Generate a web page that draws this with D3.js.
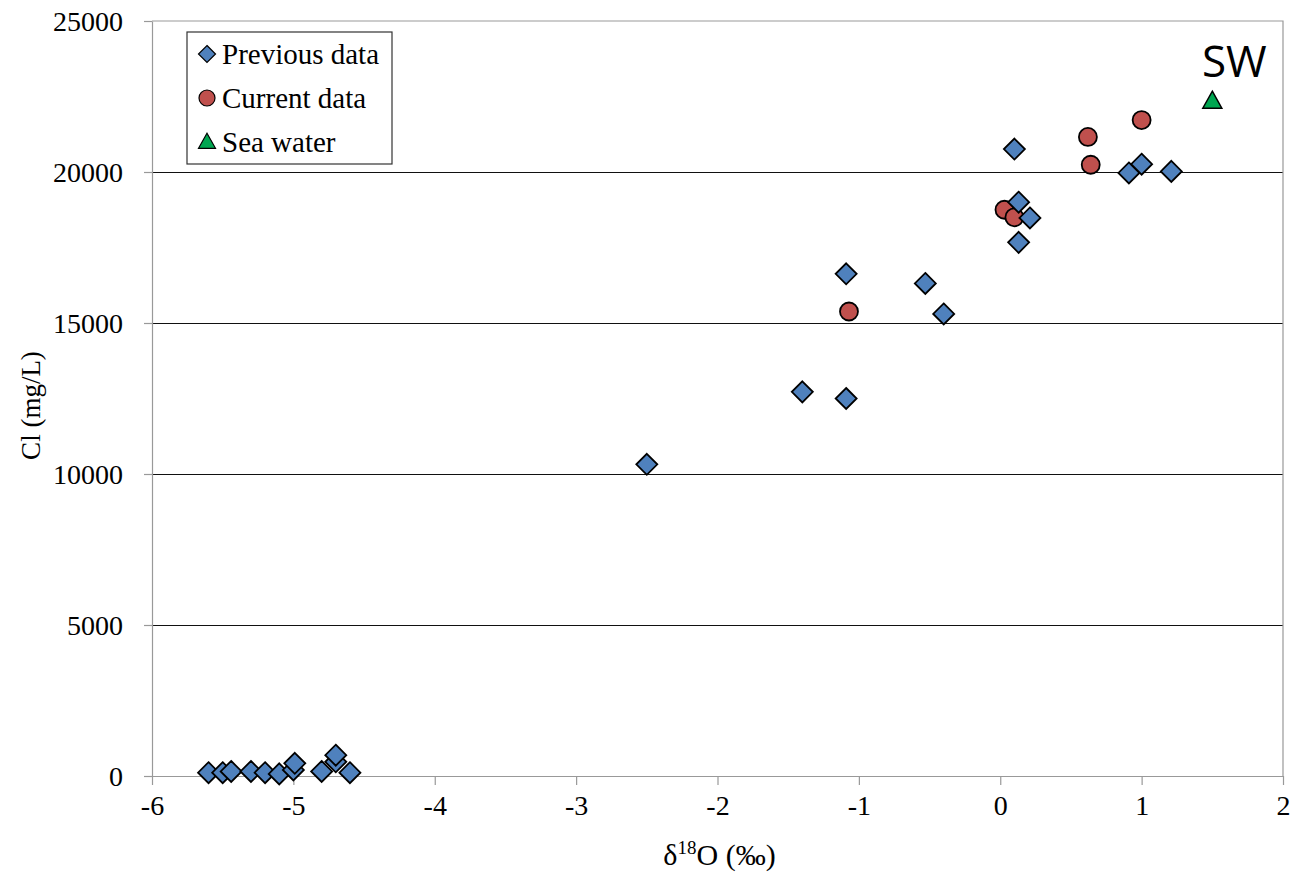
<!DOCTYPE html>
<html>
<head>
<meta charset="utf-8">
<script src="https://cdn.jsdelivr.net/npm/d3@7"></script>
<style>
  body { margin: 0; background: #fff; }
  svg text { font-family: "Liberation Serif", "Times New Roman", serif; fill: #000; }
</style>
</head>
<body>
<svg id="chart" width="1304" height="874"></svg>
<script>
// previous data: delta18O (permil) and Cl (mg/L)
const prevD18O = [-5.6, -5.5, -5.44, -5.3, -5.2, -5.1, -5.0, -4.99, -4.8, -4.7, -4.7, -4.6,
  -2.5, -1.4, -1.09, -1.09, -0.53, -0.4, 0.1, 0.13, 0.21, 0.13, 0.91, 1.0, 1.21];
const prevCl = [110, 110, 150, 150, 110, 70, 200, 420, 150, 470, 690, 110,
  10320, 12720, 12500, 16630, 16310, 15300, 20760, 19000, 18480, 17670, 19970, 20260, 20020];

// current data
const curD18O = [-1.07, 0.03, 0.1, 0.62, 0.64, 1.0];
const curCl = [15380, 18750, 18500, 21160, 20240, 21720];

// sea water
const swD18O = [1.5];
const swCl = [22350];

const xTicks = [-6, -5, -4, -3, -2, -1, 0, 1, 2];
const yTicks = [0, 5000, 10000, 15000, 20000, 25000];
const legendLabels = ["Previous data", "Current data", "Sea water"];

const margin = { top: 21, right: 21, bottom: 98, left: 152 };
const width = 1304 - margin.left - margin.right;
const height = 874 - margin.top - margin.bottom;

const svg = d3.select("#chart");
const g = svg.append("g").attr("transform", `translate(${margin.left},${margin.top})`);

const x = d3.scaleLinear().domain([-6, 2]).range([0, width]);
const y = d3.scaleLinear().domain([0, 25000]).range([height, 0]);

// gridlines
g.append("g")
  .selectAll("line")
  .data(yTicks.filter(d => d > 0 && d < 25000))
  .join("line")
  .attr("x1", 0).attr("x2", width)
  .attr("y1", d => Math.round(y(d)) + 0.5).attr("y2", d => Math.round(y(d)) + 0.5)
  .attr("stroke", "#111").attr("stroke-width", 1.2);

// frame top + right
g.append("path")
  .attr("d", `M0,0H${width}V${height}`)
  .attr("fill", "none").attr("stroke", "#999").attr("stroke-width", 1.2);

// axes
const fmt = d => String(d);
const xAxis = g.append("g")
  .attr("transform", `translate(0,${height})`)
  .call(d3.axisBottom(x).tickValues(xTicks).tickFormat(fmt).tickSize(9).tickPadding(10).tickSizeOuter(0));
const yAxis = g.append("g")
  .call(d3.axisLeft(y).tickValues(yTicks).tickFormat(fmt).tickSize(8).tickPadding(21).tickSizeOuter(0));

[xAxis, yAxis].forEach(a => {
  a.select(".domain").attr("stroke", "#999").attr("stroke-width", 1.2);
  a.selectAll(".tick line").attr("stroke", "#999").attr("stroke-width", 1.2);
  a.selectAll("text").attr("font-size", 28).attr("fill", "#000");
});
yAxis.selectAll("text").attr("dy", "0.35em");

// axis titles
const xt = g.append("text")
  .attr("x", width / 2 + 2).attr("y", height + 89)
  .attr("text-anchor", "middle").attr("font-size", 30);
xt.append("tspan").text("δ");
xt.append("tspan").attr("font-size", 19).attr("dy", -11).text("18");
xt.append("tspan").attr("dy", 11).text("O (‰)");

g.append("text")
  .attr("transform", `translate(${-112},${height / 2 + 7}) rotate(-90)`)
  .attr("text-anchor", "middle").attr("font-size", 27)
  .text("Cl (mg/L)");

// marker shapes
function diamond(r) { return `M0,${-r}L${r},0L0,${r}L${-r},0Z`; }
function triangle(w, h) { return `M0,${-h * 0.58}L${w / 2},${h * 0.42}L${-w / 2},${h * 0.42}Z`; }

// current data (circles)
g.append("g")
  .selectAll("circle")
  .data(d3.zip(curD18O, curCl))
  .join("circle")
  .attr("cx", d => x(d[0])).attr("cy", d => y(d[1]))
  .attr("r", 9)
  .attr("fill", "#C0504D").attr("stroke", "#000").attr("stroke-width", 1.8);

// previous data (diamonds)
g.append("g")
  .selectAll("path")
  .data(d3.zip(prevD18O, prevCl))
  .join("path")
  .attr("transform", d => `translate(${x(d[0])},${y(d[1])})`)
  .attr("d", diamond(10.5))
  .attr("fill", "#4F81BD").attr("stroke", "#000").attr("stroke-width", 1.8);

// sea water (triangle)
g.append("g")
  .selectAll("path")
  .data(d3.zip(swD18O, swCl))
  .join("path")
  .attr("transform", d => `translate(${x(d[0])},${y(d[1])})`)
  .attr("d", triangle(19, 17))
  .attr("fill", "#00A651").attr("stroke", "#000").attr("stroke-width", 1.5);

g.append("text")
  .attr("x", x(swD18O[0]) + 22).attr("y", y(swCl[0]) - 24)
  .attr("text-anchor", "middle")
  .style("font-family", "'Open Sans', sans-serif")
  .attr("font-size", 44)
  .text("SW");

// legend
const legend = svg.append("g").attr("transform", "translate(187,32)");
legend.append("rect")
  .attr("width", 205).attr("height", 132)
  .attr("fill", "#fff").attr("stroke", "#333").attr("stroke-width", 1.2);

const rows = legend.selectAll("g.row")
  .data(legendLabels)
  .join("g")
  .attr("class", "row")
  .attr("transform", (d, i) => `translate(20,${22 + i * 44})`);

rows.each(function (d, i) {
  const r = d3.select(this);
  if (i === 0) {
    r.append("path").attr("d", diamond(8.5)).attr("fill", "#4F81BD").attr("stroke", "#000").attr("stroke-width", 1.2);
  } else if (i === 1) {
    r.append("circle").attr("r", 8).attr("fill", "#C0504D").attr("stroke", "#000").attr("stroke-width", 1.2);
  } else {
    r.append("path").attr("d", triangle(17, 15)).attr("fill", "#00A651").attr("stroke", "#000").attr("stroke-width", 1.2);
  }
  r.append("text").attr("x", 15).attr("dy", "0.35em").attr("font-size", 29).text(d);
});
</script>
</body>
</html>
